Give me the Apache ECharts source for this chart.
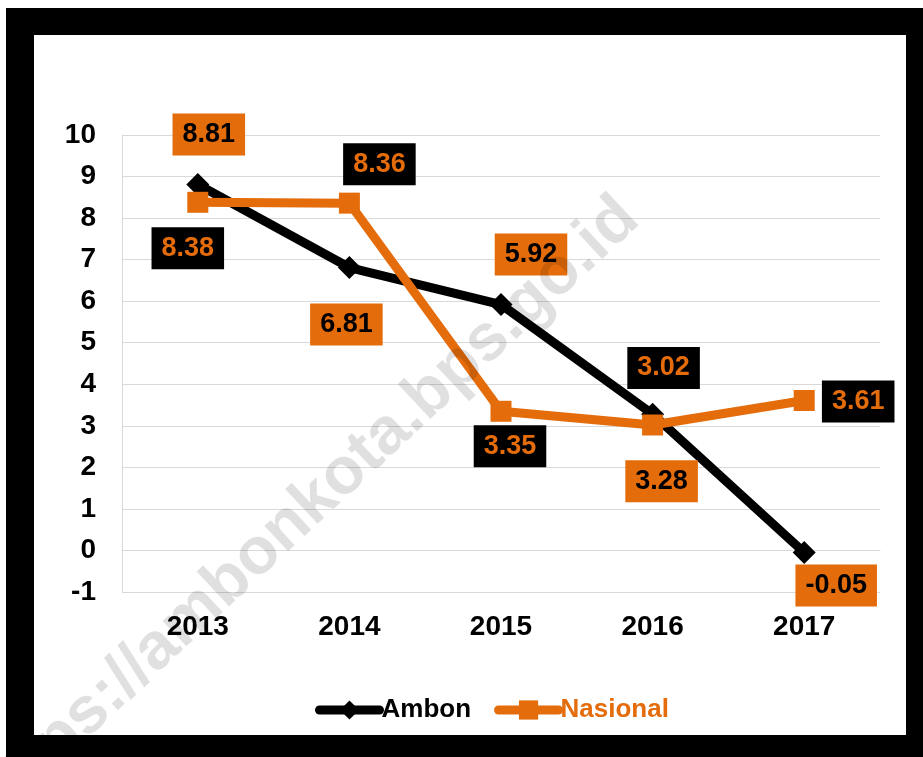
<!DOCTYPE html>
<html>
<head>
<meta charset="utf-8">
<script src="https://cdn.jsdelivr.net/npm/echarts@6/dist/echarts.min.js"></script>
<style>
  html, body { margin: 0; padding: 0; background: #fff; }
  #chart { width: 923px; height: 757px; }
</style>
</head>
<body>
<div id="chart"></div>
<script>
// ---- data ----
const categories = ['2013', '2014', '2015', '2016', '2017'];
const ambon = [8.81, 6.81, 5.92, 3.28, -0.05];
const nasional = [8.38, 8.36, 3.35, 3.02, 3.61];
const seriesNames = ['Ambon', 'Nasional'];
const watermarkText = 'https://ambonkota.bps.go.id';

// ---- layout (label offsets in px from each point) ----
const ambonLabelOffsets = [[11, -50], [-3, 57], [30, -50], [9, 67], [32, 33]];
const nasionalLabelOffsets = [[-10, 46], [30, -39], [9, 35], [11, -57], [54, 1]];

const ORANGE = '#E46C0A';
const BLACK = '#000000';
const FONT = "'Liberation Sans', Arial, sans-serif";

function buildData(values, offsets) {
  return values.map((v, i) => ({ value: v, label: { offset: offsets[i] } }));
}

const labelBase = {
  show: true,
  position: 'inside',
  fontFamily: FONT,
  fontWeight: 'bold',
  fontSize: 27,
  lineHeight: 30,
  padding: [6, 10]
};

const chart = echarts.init(document.getElementById('chart'), null, { renderer: 'canvas' });

chart.setOption({
  animation: false,
  backgroundColor: '#ffffff',
  grid: { left: 122, right: 43, top: 135, bottom: 165, containLabel: false },
  xAxis: {
    type: 'category',
    data: categories,
    boundaryGap: true,
    axisLine: { show: true, lineStyle: { color: '#d9d9d9', width: 1 } },
    axisTick: { show: false },
    axisLabel: { color: '#000', fontFamily: FONT, fontWeight: 'bold', fontSize: 28, margin: 21 }
  },
  yAxis: {
    type: 'value',
    min: -1, max: 10, interval: 1,
    axisLine: { show: true, lineStyle: { color: '#d9d9d9', width: 1 } },
    axisTick: { show: false },
    splitLine: { show: true, lineStyle: { color: '#d9d9d9', width: 1 } },
    axisLabel: { color: '#000', fontFamily: FONT, fontWeight: 'bold', fontSize: 28, margin: 26 }
  },
  legend: {
    left: 315, top: 697, padding: 0,
    itemWidth: 60, itemHeight: 24, itemGap: 23,
    lineStyle: { width: 9, cap: 'round' },
    textStyle: { fontFamily: FONT, fontWeight: 'bold', fontSize: 26, padding: [0, 0, 0, -3] },
    data: [
      { name: seriesNames[0], textStyle: { color: BLACK } },
      { name: seriesNames[1], textStyle: { color: ORANGE } }
    ]
  },
  series: [
    {
      name: seriesNames[0], type: 'line',
      data: buildData(ambon, ambonLabelOffsets),
      symbol: 'diamond', symbolSize: 23,
      lineStyle: { color: BLACK, width: 9 },
      itemStyle: { color: BLACK },
      label: Object.assign({}, labelBase, { color: BLACK, backgroundColor: ORANGE }),
      z: 3
    },
    {
      name: seriesNames[1], type: 'line',
      data: buildData(nasional, nasionalLabelOffsets),
      symbol: 'rect', symbolSize: 21,
      lineStyle: { color: ORANGE, width: 9 },
      itemStyle: { color: ORANGE },
      label: Object.assign({}, labelBase, { color: ORANGE, backgroundColor: BLACK }),
      z: 4
    }
  ],
  graphic: [
    {
      type: 'text', z: 50, silent: true,
      x: 306, y: 510, rotation: 0.75,
      style: {
        text: watermarkText, fontFamily: FONT, fontWeight: 'bold', fontSize: 66,
        fill: 'rgba(0,0,0,0.12)', align: 'center', verticalAlign: 'middle'
      }
    },
    { type: 'rect', z: 100, silent: true, shape: { x: 6, y: 8, width: 917, height: 27 }, style: { fill: '#000' } },
    { type: 'rect', z: 100, silent: true, shape: { x: 6, y: 735, width: 917, height: 22 }, style: { fill: '#000' } },
    { type: 'rect', z: 100, silent: true, shape: { x: 6, y: 8, width: 28, height: 749 }, style: { fill: '#000' } },
    { type: 'rect', z: 100, silent: true, shape: { x: 906, y: 8, width: 17, height: 749 }, style: { fill: '#000' } }
  ]
});
</script>
</body>
</html>
